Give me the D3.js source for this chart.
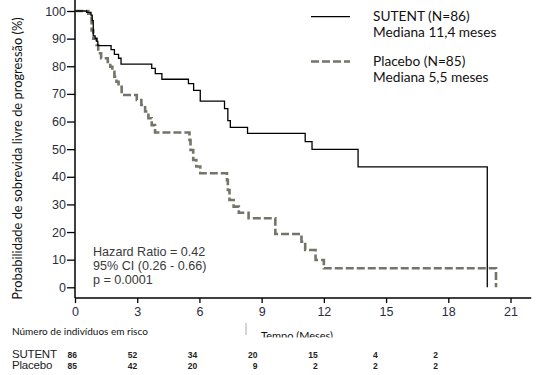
<!DOCTYPE html>
<html lang="pt">
<head>
<meta charset="UTF-8">
<title>Sobrevida livre de progressão</title>
<script src="https://d3js.org/d3.v7.min.js"></script>
<style>
  body { margin: 0; background: #fff; }
  svg { display: block; }
</style>
</head>
<body>
<script>
    const width = 539;
    const height = 375;

    // curvas de Kaplan-Meier [mes, %]
    const sutent = [[0,100],[0.56,99.5],[0.77,98.5],[0.83,96.5],[0.88,91],[0.97,90],[1.05,89],[1.1,87.5],
        [1.74,86],[1.9,84.3],[2.1,82.9],[2.22,80.8],[3.7,79.2],[3.87,77.3],[4.19,75.3],[5.47,73.7],
        [5.72,71.3],[6.04,67.4],[7.21,64.7],[7.37,60.3],[7.49,57.9],[8.32,55.7],[11.1,52.7],
        [11.43,49.9],[13.65,43.6],[19.88,0]];
    const placebo = [[0,100],[0.64,99],[0.8,93],[0.88,90],[1.04,87.7],[1.12,84.7],[1.26,82.9],
        [1.58,81.6],[1.7,79.8],[1.8,78],[1.9,76.2],[2.0,74.4],[2.1,72.6],[2.25,69.6],[2.98,67.8],
        [3.2,66],[3.38,63.6],[3.54,61.2],[3.7,58.7],[3.86,56],[5.52,53.3],[5.57,49.7],[5.7,46.1],
        [5.85,43.7],[6.04,41.3],[7.33,38.8],[7.37,35.2],[7.45,31.6],[7.65,29.2],[7.9,27],[8.37,25],
        [9.66,19.3],[10.92,16.5],[11.1,13.5],[11.6,9.9],[12.0,6.9],[20.3,0]];

    const xTicks = [0, 3, 6, 9, 12, 15, 18, 21];
    const yTicks = [0, 10, 20, 30, 40, 50, 60, 70, 80, 90, 100];

    // número em risco
    const riskTimes = [0, 3, 6, 9, 12, 15, 18];
    const riskSutent = [86, 52, 34, 20, 15, 4, 2];
    const riskPlacebo = [85, 42, 20, 9, 2, 2, 2];

    const legendLabels = [["SUTENT (N=86)", "Mediana 11,4 meses"], ["Placebo (N=85)", "Mediana 5,5 meses"]];
    const statsLines = ["Hazard Ratio = 0.42", "95% CI (0.26 - 0.66)", "p = 0.0001"];

    const solidColor = "#000";
    const dashColor = "#74746a";
    const labelColor = "#2c2c3c";

    const svg = d3.select("body").append("svg")
            .attr("width", width).attr("height", height);

    const x = d3.scaleLinear().domain([0, 21]).range([75, 510.5]);
    const y = d3.scaleLinear().domain([0, 100]).range([287.3, 11]);
    const riskX = d3.scaleLinear().domain([0, 18]).range([77, 438]);

    // eixos
    const xAxis = svg.append("g")
            .attr("transform", `translate(0,${y(-3.9)})`)
            .call(d3.axisBottom(x).tickValues(xTicks).tickSize(5).tickPadding(4).tickSizeOuter(0));
    const yAxis = svg.append("g")
            .attr("transform", `translate(${x(0)},0)`)
            .call(d3.axisLeft(y).tickValues(yTicks).tickSize(8).tickPadding(1).tickSizeOuter(0));

    [xAxis, yAxis].forEach(g => {
        g.select(".domain").remove();
        g.selectAll(".tick line").attr("stroke", "#000").attr("stroke-width", 1.3);
        g.selectAll(".tick text")
                .attr("fill", labelColor)
                .style("font-family", "'Liberation Sans', Arial, sans-serif")
                .style("font-size", "12.5px");
    });

    svg.append("line")
            .attr("x1", x(0)).attr("x2", x(0))
            .attr("y1", y(104)).attr("y2", y(-3.9))
            .attr("stroke", "#000").attr("stroke-width", 1.5);
    svg.append("line")
            .attr("x1", x(0)).attr("x2", x(22))
            .attr("y1", y(-3.9)).attr("y2", y(-3.9))
            .attr("stroke", "#000").attr("stroke-width", 1.5);

    // curvas
    const line = d3.line()
            .x(d => x(d[0]))
            .y(d => y(d[1]))
            .curve(d3.curveStepAfter);

    svg.append("path")
            .datum(placebo)
            .attr("d", line)
            .attr("fill", "none")
            .attr("stroke", dashColor)
            .attr("stroke-width", 2.6)
            .attr("stroke-dasharray", "8,3");

    svg.append("path")
            .datum(sutent)
            .attr("d", line)
            .attr("fill", "none")
            .attr("stroke", solidColor)
            .attr("stroke-width", 1.3);

    // legenda
    const legend = svg.append("g");
    const legendY = [16.7, 61.5];
    legendLabels.forEach((lines, i) => {
        legend.append("line")
                .attr("x1", 311).attr("x2", 350)
                .attr("y1", legendY[i]).attr("y2", legendY[i])
                .attr("stroke", i === 0 ? solidColor : dashColor)
                .attr("stroke-width", i === 0 ? 1.3 : 2.6)
                .attr("stroke-dasharray", i === 0 ? null : "8,3");
        lines.forEach((t, j) => {
            legend.append("text")
                    .attr("x", 373)
                    .attr("y", legendY[i] + 4.5 + j * 16)
                    .attr("fill", "#111")
                    .style("font-family", "Lato, 'Open Sans', sans-serif")
                    .style("font-size", "13.7px")
                    .text(t);
        });
    });

    // estatísticas
    statsLines.forEach((t, i) => {
        svg.append("text")
                .attr("x", 93)
                .attr("y", 256 + i * 14)
                .attr("fill", "#3a3a3a")
                .style("font-family", "'Liberation Sans', Arial, sans-serif")
                .style("font-size", "12.6px")
                .text(t);
    });

    // título do eixo y
    svg.append("text")
            .attr("transform", `translate(22,${(12 + 305) / 2}) rotate(-90)`)
            .attr("text-anchor", "middle")
            .attr("fill", "#111")
            .style("font-family", "Lato, 'Open Sans', sans-serif")
            .style("font-size", "12.9px")
            .text("Probabilidade de sobrevida livre de progressão (%)");

    // rótulos inferiores
    svg.append("text")
            .attr("x", 12).attr("y", 335)
            .attr("fill", "#111")
            .style("font-family", "Lato, 'Open Sans', sans-serif")
            .style("font-size", "10px")
            .text("Número de indivíduos em risco");

    svg.append("clipPath").attr("id", "cut")
            .append("rect").attr("x", 0).attr("y", 0).attr("width", width).attr("height", 337.5);
    svg.append("text")
            .attr("x", 261).attr("y", 340)
            .attr("clip-path", "url(#cut)")
            .attr("fill", "#111")
            .style("font-family", "Lato, 'Open Sans', sans-serif")
            .style("font-size", "11px")
            .text("Tempo (Meses)");

    svg.append("line")
            .attr("x1", 246).attr("x2", 246)
            .attr("y1", 323).attr("y2", 335)
            .attr("stroke", "#aaa").attr("stroke-width", 1);

    // tabela de risco
    const risk = [["SUTENT", riskSutent, 358.3], ["Placebo", riskPlacebo, 369.3]];
    risk.forEach(([name, vals, by]) => {
        svg.append("text")
                .attr("x", 12).attr("y", by)
                .attr("fill", "#222")
                .style("font-family", "'Liberation Sans', Arial, sans-serif")
                .style("font-size", "11.5px")
                .style("letter-spacing", "-0.2px")
                .text(name);
        svg.append("g").selectAll("text")
                .data(vals)
                .join("text")
                .attr("x", (d, i) => riskX(riskTimes[i]))
                .attr("y", by)
                .attr("text-anchor", "end")
                .attr("fill", "#222")
                .style("font-family", "'Liberation Sans', Arial, sans-serif")
                .style("font-size", "8.5px")
                .style("font-weight", "bold")
                .text(d => d);
    });
</script>
</body>
</html>
